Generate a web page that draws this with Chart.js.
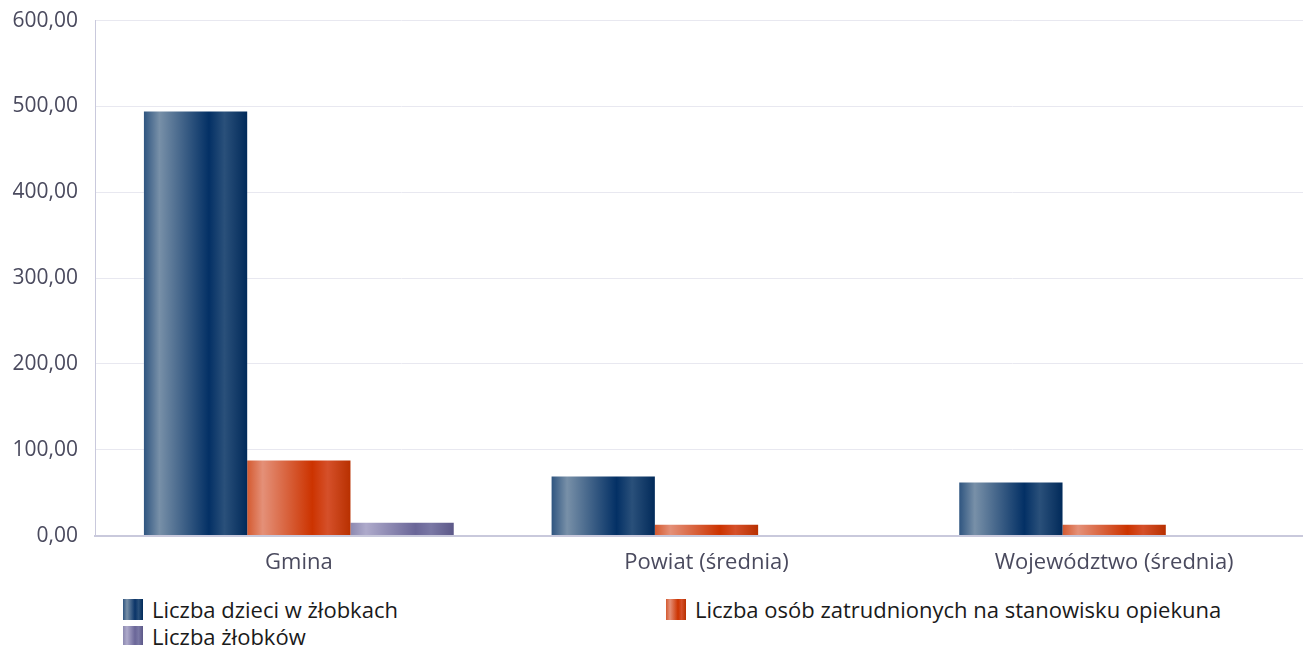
<!DOCTYPE html>
<html>
<head>
    <title>Żłobki</title>
    <script src="https://cdn.jsdelivr.net/npm/chart.js"></script>
    <style>
        body {
            margin: 0;
            width: 1303px;
            height: 645px;
            background: #fff;
            font-family: "Open Sans", "Noto Sans", sans-serif;
            position: relative;
            overflow: hidden;
        }
        /* plot runs past the right edge in the original, so the canvas is wider than the page */
        .chart-box {
            position: absolute;
            left: 0;
            top: -9px;
            width: 1318px;
            height: 599px;
        }
        .legend-item {
            position: absolute;
            display: flex;
            align-items: center;
            font-size: 22px;
            color: #1a1a1a;
            white-space: nowrap;
        }
        .swatch {
            width: 20px;
            height: 21px;
            margin-right: 9px;
        }
    </style>
</head>
<body>
    <div class="chart-box"><canvas id="chart"></canvas></div>

    <div class="legend-item" style="left:123px; top:594px;">
        <div class="swatch" style="background: linear-gradient(90deg, #2f5580, #7890a8 20%, #0a3468 60%, #2a507a 78%, #012a5a);"></div>
        Liczba dzieci w żłobkach
    </div>
    <div class="legend-item" style="left:666px; top:594px;">
        <div class="swatch" style="background: linear-gradient(90deg, #d45a30, #e49078 20%, #cc3300 60%, #d5502a 78%, #b83000);"></div>
        Liczba osób zatrudnionych na stanowisku opiekuna
    </div>
    <div class="legend-item" style="left:123px; top:621px;">
        <div class="swatch" style="background: linear-gradient(90deg, #8c89b0, #aeaacb 20%, #6a6698 60%, #7a78a5 78%, #5c5888);"></div>
        Liczba żłobków
    </div>

    <script>
        // data
        const categories = ['Gmina', 'Powiat (średnia)', 'Województwo (średnia)'];
        const dzieci = [494, 69, 62];
        const opiekunowie = [87.5, 12.5, 12.5];
        const zlobki = [15, 0, 0];
        const yTicks = [0, 100, 200, 300, 400, 500, 600];

        const catPct = 0.76;

        // gradient stops for each series: [offset, colour]
        const blueStops = [[0, '#2f5580'], [0.15, '#7890a8'], [0.63, '#033065'], [0.78, '#2a507a'], [1, '#012a5a']];
        const orangeStops = [[0, '#d45a30'], [0.15, '#e49078'], [0.63, '#cc3300'], [0.78, '#d5502a'], [1, '#b83000']];
        const purpleStops = [[0, '#8c89b0'], [0.15, '#aeaacb'], [0.63, '#6a6698'], [0.78, '#7a78a5'], [1, '#5c5888']];

        function barGradient(stops) {
            return function (ctx) {
                const chart = ctx.chart;
                const xs = chart.scales.x;
                if (!xs || ctx.dataIndex === undefined) return stops[2][1];
                const cw = (xs.right - xs.left) / categories.length;
                const bw = cw * catPct / 3;
                const left = xs.getPixelForValue(ctx.dataIndex) - cw * catPct / 2 + ctx.datasetIndex * bw;
                if (!isFinite(left) || !isFinite(bw) || bw <= 0) return stops[2][1];
                const g = chart.ctx.createLinearGradient(left, 0, left + bw, 0);
                stops.forEach(s => g.addColorStop(s[0], s[1]));
                return g;
            };
        }

        const fmt = v => v.toFixed(2).replace('.', ',');
        const family = '"Open Sans", "Noto Sans", sans-serif';

        const chart = new Chart(document.getElementById('chart'), {
            type: 'bar',
            data: {
                labels: categories,
                datasets: [
                    { label: 'Liczba dzieci w żłobkach', data: dzieci, backgroundColor: barGradient(blueStops) },
                    { label: 'Liczba osób zatrudnionych na stanowisku opiekuna', data: opiekunowie, backgroundColor: barGradient(orangeStops) },
                    { label: 'Liczba żłobków', data: zlobki, backgroundColor: barGradient(purpleStops) }
                ]
            },
            options: {
                responsive: true,
                maintainAspectRatio: false,
                animation: false,
                categoryPercentage: catPct,
                barPercentage: 1,
                layout: { padding: { top: 0, right: 0, left: 0, bottom: 0 } },
                plugins: {
                    legend: { display: false },
                    tooltip: { enabled: false }
                },
                scales: {
                    x: {
                        grid: { display: false, drawTicks: false },
                        border: { color: '#c9c9dc', width: 2 },
                        ticks: { color: '#4a4a5e', font: { family: family, size: 22 }, padding: 14 }
                    },
                    y: {
                        min: 0,
                        max: 600,
                        afterBuildTicks: axis => { axis.ticks = yTicks.map(v => ({ value: v })); },
                        afterFit: axis => { axis.width = 95; },
                        grid: { color: '#e8e8f0', drawTicks: false },
                        border: { color: '#c9c9dc', width: 1 },
                        ticks: { color: '#4a4a5e', font: { family: family, size: 21 }, padding: 17, callback: v => fmt(v) }
                    }
                }
            }
        });
        chart.update();
    </script>
</body>
</html>
